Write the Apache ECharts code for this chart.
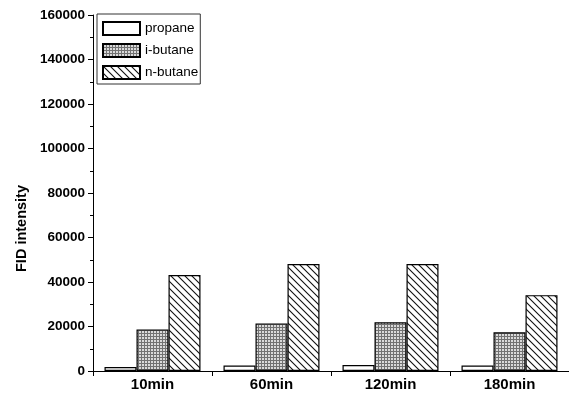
<!DOCTYPE html>
<html>
<head>
<meta charset="utf-8">
<style>
  html, body { margin: 0; padding: 0; background: #fff; }
  #chart { width: 569px; height: 397px; }
</style>
<script src="https://cdn.jsdelivr.net/npm/echarts@6/dist/echarts.min.js"></script>
</head>
<body>
<div id="chart"></div>
<script>
// Sampling times
const categories = ['10min', '60min', '120min', '180min'];

// FID peak intensities per gas
const propane = [1800, 2500, 2700, 2500];
const iButane = [18700, 21400, 21900, 17400];
const nButane = [43100, 48100, 48100, 34100];

const seriesNames = ['propane', 'i-butane', 'n-butane'];

// Fine gray cross-hatch fill
function gridPattern() {
  const c = document.createElement('canvas');
  c.width = 3; c.height = 3;
  const g = c.getContext('2d');
  g.fillStyle = '#dadada';
  g.fillRect(0, 0, 3, 3);
  g.fillStyle = '#727272';
  g.fillRect(0, 0, 3, 1);
  g.fillRect(0, 0, 1, 3);
  return c;
}

// Diagonal "\" hatch fill
function diagPattern() {
  const s = 7;
  const c = document.createElement('canvas');
  c.width = s; c.height = s;
  const g = c.getContext('2d');
  g.fillStyle = '#ffffff';
  g.fillRect(0, 0, s, s);
  g.strokeStyle = '#111';
  g.lineWidth = 1.1;
  g.beginPath();
  g.moveTo(-1, -1); g.lineTo(s + 1, s + 1);
  g.moveTo(-1, s - 1); g.lineTo(1, s + 1);
  g.moveTo(s - 1, -1); g.lineTo(s + 1, 1);
  g.stroke();
  return c;
}

const fills = [
  '#ffffff',
  { image: gridPattern(), repeat: 'repeat' },
  { image: diagPattern(), repeat: 'repeat' }
];
const values = [propane, iButane, nButane];

const chart = echarts.init(document.getElementById('chart'), null, { renderer: 'canvas' });

const font = 'Arial, "Liberation Sans", sans-serif';

chart.setOption({
  animation: false,
  backgroundColor: '#fff',
  grid: { left: 93, right: 0, top: 15, bottom: 26, containLabel: false },
  legend: {
    left: 97,
    top: 14,
    orient: 'vertical',
    icon: 'rect',
    itemWidth: 37,
    itemHeight: 13,
    itemGap: 7,
    padding: [7, 2, 4, 5],
    borderColor: '#333',
    borderWidth: 1,
    textStyle: { fontFamily: font, fontSize: 13.5, lineHeight: 13, color: '#000' },
    data: seriesNames
  },
  xAxis: {
    type: 'category',
    data: categories,
    axisLine: { lineStyle: { color: '#000', width: 1 } },
    axisTick: { show: true, alignWithLabel: false, inside: false, length: 5, lineStyle: { color: '#000' } },
    axisLabel: {
      fontFamily: font,
      fontSize: 15,
      fontWeight: 'bold',
      color: '#000',
      margin: 6
    }
  },
  yAxis: {
    type: 'value',
    min: 0,
    max: 160000,
    interval: 20000,
    axisLine: { show: true, lineStyle: { color: '#000', width: 1 } },
    axisTick: { show: true, inside: false, length: 5, lineStyle: { color: '#000' } },
    minorTick: { show: true, splitNumber: 2, length: 3, lineStyle: { color: '#000' } },
    splitLine: { show: false },
    axisLabel: {
      fontFamily: font,
      fontSize: 13.5,
      fontWeight: 'bold',
      color: '#000',
      margin: 8,
      formatter: v => String(v)
    }
  },
  graphic: [{
    type: 'text',
    left: 14,
    top: 185,
    rotation: Math.PI / 2,
    style: {
      text: 'FID intensity',
      font: 'bold 14.5px ' + font,
      fill: '#000'
    }
  }],
  series: seriesNames.map((name, i) => ({
    name: name,
    type: 'bar',
    data: values[i],
    barWidth: 32,
    barGap: '0%',
    itemStyle: {
      color: fills[i],
      borderColor: '#000',
      borderWidth: 1.2
    }
  }))
});
</script>
</body>
</html>
